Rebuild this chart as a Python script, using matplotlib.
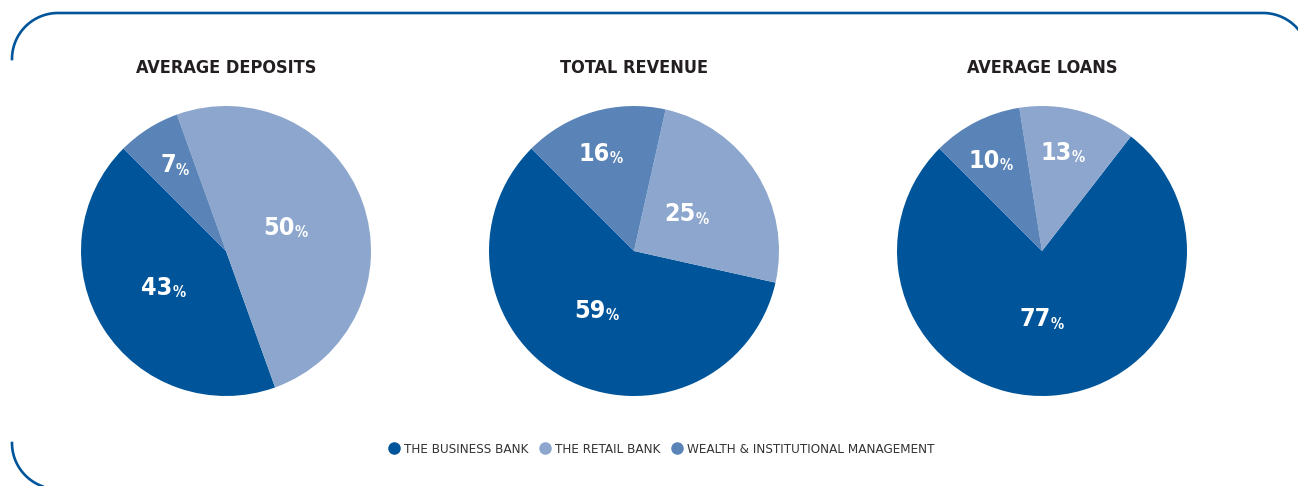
import numpy as np
import matplotlib.pyplot as plt
from matplotlib import font_manager
from matplotlib.font_manager import FontProperties
from matplotlib.lines import Line2D
from matplotlib.transforms import offset_copy

# look for a narrow face (by file); fall back to DejaVu Sans
rank = {'condensed': 0, 'extra-condensed': 1, 'semi-condensed': 2}
cond = [f for f in font_manager.fontManager.ttflist
        if f.stretch in rank and f.style == 'normal']
cond.sort(key=lambda f: rank[f.stretch])
def wt(f):
    w = f.weight
    if isinstance(w, str):
        w = 700 if 'bold' in w else 400
    return w
bold_c = [f for f in cond if wt(f) == 700] or [f for f in cond if wt(f) >= 600]
reg_c = [f for f in cond if wt(f) == 400] or [f for f in cond if wt(f) < 600]
if bold_c:
    fp_bold = lambda s: FontProperties(fname=bold_c[0].fname, size=s)
    scale = 1.0
else:
    fp_bold = lambda s: FontProperties(family='DejaVu Sans', weight='bold', size=s)
    scale = 0.8
if reg_c:
    fp_reg = lambda s: FontProperties(fname=reg_c[0].fname, size=s)
    lscale = 1.0
else:
    fp_reg = lambda s: FontProperties(family='DejaVu Sans', size=s)
    lscale = 0.8

titles = ["AVERAGE DEPOSITS", "TOTAL REVENUE", "AVERAGE LOANS"]
segments = ["THE BUSINESS BANK", "THE RETAIL BANK", "WEALTH & INSTITUTIONAL MANAGEMENT"]
business = [43, 59, 77]
retail = [50, 25, 13]
wealth = [7, 16, 10]
colors = ["#00559A", "#8CA6CD", "#5A84B7"]

W, H = 1298, 486
fig = plt.figure(figsize=(W / 100, H / 100), dpi=100)

centers_x = [226, 634, 1042]
cy, rad = 251, 145

for i, title in enumerate(titles):
    cx = centers_x[i]
    ax = fig.add_axes([(cx - rad) / W, (H - cy - rad) / H, 2 * rad / W, 2 * rad / H])
    vals = [business[i], retail[i], wealth[i]]
    wedges, _ = ax.pie(vals, colors=colors, startangle=135, counterclock=True,
                       wedgeprops=dict(linewidth=0))
    ax.set_xlim(-1, 1)
    ax.set_ylim(-1, 1)
    ax.set_aspect('equal')
    ax.axis('off')
    for w, v in zip(wedges, vals):
        mid = np.deg2rad((w.theta1 + w.theta2) / 2)
        d = 0.47 if v >= 20 else 0.7
        x, y = d * np.cos(mid), d * np.sin(mid)
        tr = offset_copy(ax.transData, fig=fig, x=3, y=0, units='points')
        ax.text(x, y, str(v), transform=tr, ha='right', va='center',
                fontproperties=fp_bold(18 * scale), color='white')
        ax.text(x, y - 0.035, '%', transform=tr, ha='left', va='center',
                fontproperties=fp_bold(10.5 * scale), color='white')
    fig.text(cx / W, 1 - 68 / H, title, ha='center', va='center',
             fontproperties=fp_bold(13 * scale), color='#231F20')

# rounded frame
r = 46
lc = '#00559A'
def arc(cx, cy, a0, a1):
    t = np.deg2rad(np.linspace(a0, a1, 60))
    return cx + r * np.cos(t), cy - r * np.sin(t)

ax_, ay_ = arc(58, 59, 180, 90)
bx_, by_ = arc(1263, 59, 90, 0)
xs = np.concatenate([ax_, bx_])
ys = np.concatenate([ay_, by_])
fig.add_artist(Line2D(xs / W, 1 - ys / H, color=lc, lw=1.9, transform=fig.transFigure))
cx_, cy_ = arc(58, 443, 180, 250)
fig.add_artist(Line2D(cx_ / W, 1 - cy_ / H, color=lc, lw=1.9, transform=fig.transFigure))

handles = [Line2D([], [], marker='o', linestyle='none', markersize=8,
                  markerfacecolor=c, markeredgecolor=c) for c in colors]
fig.legend(handles, segments, loc='center', bbox_to_anchor=(660 / W, 1 - 449 / H),
           ncol=3, frameon=False, prop=fp_reg(9.6 * lscale), handletextpad=0.1,
           columnspacing=0.6, handlelength=1.3, labelcolor='#333333')

fig.savefig('out.png', dpi=100)
